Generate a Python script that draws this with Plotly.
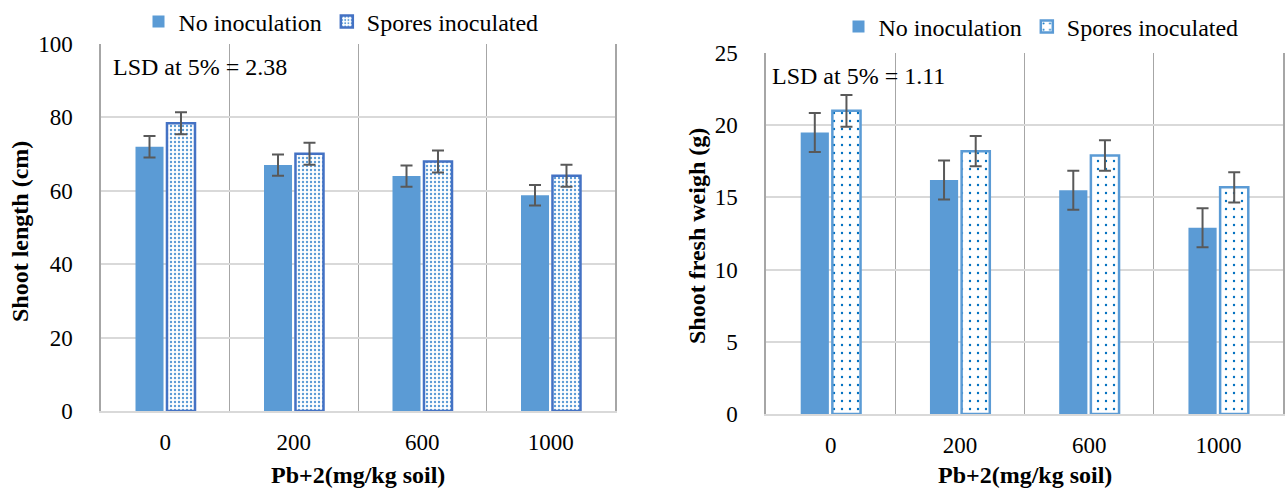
import plotly.graph_objects as go

# Pb+2 levels (mg/kg soil)
doses = ["0", "200", "600", "1000"]

# Shoot length (cm)
length_no = [72.0, 67.0, 64.0, 58.8]
length_no_err = [2.9, 2.9, 2.9, 2.8]
length_sp = [78.4, 70.1, 68.0, 64.1]
length_sp_err = [3.0, 3.0, 3.0, 3.0]

# Shoot fresh weight (g)
weight_no = [19.5, 16.2, 15.5, 12.9]
weight_no_err = [1.35, 1.35, 1.35, 1.35]
weight_sp = [21.0, 18.2, 17.9, 15.7]
weight_sp_err = [1.1, 1.05, 1.05, 1.05]

FONT = "Liberation Serif"
FS_TICK = 23
FS = 24
BLUE = "#5B9BD5"
ERR = "#595959"

W, H = 1286, 489


def px_x(v):
    return v / W


def px_y(v):
    return 1 - v / H


def font(size=FS):
    return dict(family=FONT, size=size, color="black")


fig = go.Figure()

err_style = dict(type="data", visible=True, color=ERR, thickness=2, width=6)

# Left panel: shoot length
fig.add_trace(go.Bar(
    x=doses, y=length_no, name="No inoculation", xaxis="x", yaxis="y",
    marker=dict(color=BLUE, line=dict(width=0)),
    error_y=dict(array=length_no_err, **err_style),
    legend="legend",
))
fig.add_trace(go.Bar(
    x=doses, y=length_sp, name="Spores inoculated", xaxis="x", yaxis="y",
    marker=dict(color="white", line=dict(color="#4472C4", width=2.5),
                pattern=dict(shape=".", fgcolor=BLUE, bgcolor="white",
                             size=4, solidity=0.28, fillmode="replace")),
    error_y=dict(array=length_sp_err, **err_style),
    legend="legend",
))

# Right panel: shoot fresh weight
fig.add_trace(go.Bar(
    x=doses, y=weight_no, name="No inoculation", xaxis="x2", yaxis="y2",
    marker=dict(color=BLUE, line=dict(width=0)),
    error_y=dict(array=weight_no_err, **err_style),
    legend="legend2",
))
fig.add_trace(go.Bar(
    x=doses, y=weight_sp, name="Spores inoculated", xaxis="x2", yaxis="y2",
    marker=dict(color="white", line=dict(color=BLUE, width=2.5),
                pattern=dict(shape=".", fgcolor="#0070C0", bgcolor="white",
                             size=8, solidity=0.07, fillmode="replace")),
    error_y=dict(array=weight_sp_err, **err_style),
    legend="legend2",
))

xcommon = dict(
    type="category", tickson="boundaries", showgrid=True, gridcolor="#a6a6a6",
    gridwidth=1.2, showline=True, linecolor="#d9d9d9", linewidth=2,
    ticks="outside", ticklen=28, tickcolor="rgba(0,0,0,0)",
    ticklabelstandoff=9,
    tickfont=font(FS_TICK), zeroline=False,
    range=[-0.5, 3.5], fixedrange=True, automargin=False,
)
ycommon = dict(
    showgrid=True, gridcolor="#d9d9d9", gridwidth=2, zeroline=False,
    showline=True, linecolor="#a6a6a6", linewidth=1.5, mirror=True,
    ticks="outside", ticklen=22, tickcolor="rgba(0,0,0,0)",
    tickfont=font(FS_TICK), automargin=False,
)

fig.update_layout(
    width=W, height=H,
    margin=dict(l=0, r=0, t=0, b=0, autoexpand=False),
    paper_bgcolor="white", plot_bgcolor="white",
    barmode="group", bargap=0.51, bargroupgap=0.11,
    font=font(),
    xaxis=dict(domain=[px_x(101), px_x(615)], anchor="y", **xcommon),
    yaxis=dict(domain=[px_y(411), px_y(44)], anchor="x", range=[0, 100],
               tickvals=[0, 20, 40, 60, 80, 100], **ycommon),
    xaxis2=dict(domain=[px_x(766), px_x(1283)], anchor="y2", **xcommon),
    yaxis2=dict(domain=[px_y(414), px_y(53)], anchor="x2", range=[0, 25],
                tickvals=[0, 5, 10, 15, 20, 25], **ycommon),
    legend=dict(orientation="h", x=px_x(341), xanchor="center",
                y=px_y(22), yanchor="middle", bgcolor="rgba(0,0,0,0)",
                font=font(), itemwidth=30, tracegroupgap=0),
    legend2=dict(orientation="h", x=px_x(1041), xanchor="center",
                 y=px_y(27), yanchor="middle", bgcolor="rgba(0,0,0,0)",
                 font=font(), itemwidth=30, tracegroupgap=0),
    showlegend=True,
)

annots = [
    dict(text="LSD at 5% = 2.38", x=px_x(111), y=px_y(67), xanchor="left"),
    dict(text="LSD at 5% = 1.11", x=px_x(770), y=px_y(76), xanchor="left"),
    dict(text="<b>Shoot length (cm)</b>", x=px_x(20), y=px_y(232),
         xanchor="center", textangle=-90),
    dict(text="<b>Shoot fresh weigh (g)</b>", x=px_x(697), y=px_y(236),
         xanchor="center", textangle=-90),
    dict(text="<b>Pb+2(mg/kg soil)</b>", x=px_x(358), y=px_y(475), xanchor="center"),
    dict(text="<b>Pb+2(mg/kg soil)</b>", x=px_x(1025), y=px_y(475), xanchor="center"),
]
for a in annots:
    fig.add_annotation(xref="paper", yref="paper", showarrow=False,
                       yanchor="middle", font=font(), **a)

fig.write_html("out.html")
